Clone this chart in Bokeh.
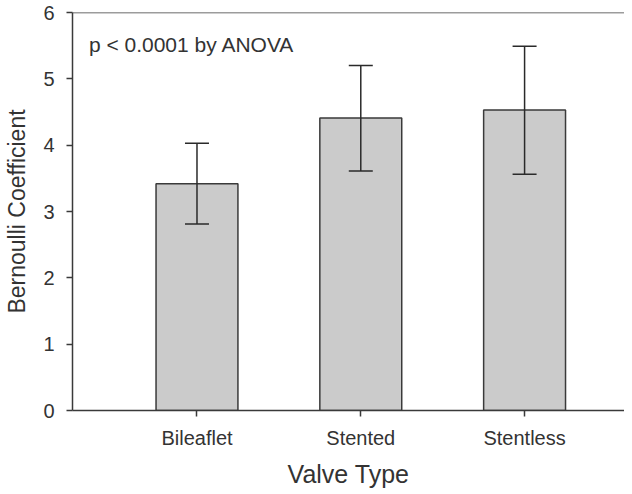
from bokeh.plotting import figure
from bokeh.models import ColumnDataSource, Whisker, TeeHead, Span, FixedTicker, Label, Range1d
from bokeh.embed import file_html
from bokeh.resources import INLINE

categories = ["Bileaflet", "Stented", "Stentless"]
means = [3.42, 4.41, 4.53]
err_low = [2.81, 3.61, 3.56]
err_high = [4.03, 5.20, 5.49]
y_ticks = [0, 1, 2, 3, 4, 5, 6]

xs = [i + 1 for i in range(len(categories))]
src = ColumnDataSource(dict(x=xs, top=means, lower=err_low, upper=err_high))

FONT = "Liberation Sans"
p = figure(width=624, height=490, output_backend="svg", toolbar_location=None,
           x_range=Range1d(0.24, 3.61), y_range=Range1d(0, 6),
           min_border_left=72, min_border_right=0, min_border_top=12, min_border_bottom=79)
p.background_fill_color = "white"
p.outline_line_color = None
p.xgrid.visible = False
p.ygrid.visible = False

p.vbar(x="x", top="top", width=0.5, bottom=0, source=src,
       fill_color="#cbcbcb", line_color="#3a3a3a", line_width=1.5)

w = Whisker(base="x", lower="lower", upper="upper", source=src,
            line_color="#2a2a2a", line_width=1.5, level="overlay",
            upper_head=TeeHead(size=24, line_color="#2a2a2a", line_width=1.5),
            lower_head=TeeHead(size=24, line_color="#2a2a2a", line_width=1.5))
p.add_layout(w)

p.add_layout(Span(location=6, dimension="width", line_color="#3a3a3a", line_width=1.5))

p.xaxis.ticker = FixedTicker(ticks=xs)
p.xaxis.major_label_overrides = {x: c for x, c in zip(xs, categories)}
p.xaxis.axis_label = "Valve Type"
p.yaxis.ticker = FixedTicker(ticks=y_ticks)
p.yaxis.axis_label = "Bernoulli Coefficient"

for ax in (p.xaxis, p.yaxis):
    ax.axis_line_color = "#3a3a3a"
    ax.axis_line_width = 1.5
    ax.major_tick_line_color = "#3a3a3a"
    ax.major_tick_line_width = 1.5
    ax.major_tick_out = 6
    ax.major_tick_in = 0
    ax.minor_tick_line_color = None
    ax.major_label_text_font = FONT
    ax.major_label_text_font_size = "20px"
    ax.major_label_text_color = "#333333"
    ax.axis_label_text_font = FONT
    ax.axis_label_text_font_style = "normal"
    ax.axis_label_text_color = "#333333"

p.xaxis.axis_label_text_font_size = "25px"
p.yaxis.axis_label_text_font_size = "23px"
p.xaxis.major_label_standoff = 10
p.xaxis.axis_label_standoff = 8
p.yaxis.major_label_standoff = 12
p.yaxis.axis_label_standoff = 10

p.add_layout(Label(x=0.34, y=5.52, text="p < 0.0001 by ANOVA", text_font=FONT,
                   text_font_size="21px", text_color="#333333", text_baseline="middle"))

open("out.html", "w").write(file_html(p, INLINE))
